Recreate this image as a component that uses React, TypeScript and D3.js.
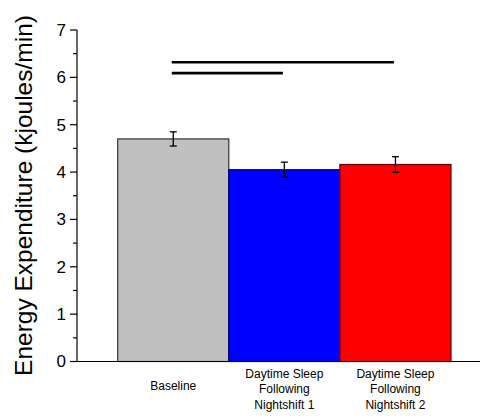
import React from "react";
import * as d3 from "d3";

const categories = ["Baseline", "Daytime Sleep Following Nightshift 1", "Daytime Sleep Following Nightshift 2"];
const labelLines = [["Baseline"], ["Daytime Sleep", "Following", "Nightshift 1"], ["Daytime Sleep", "Following", "Nightshift 2"]];
const values = [4.7, 4.05, 4.16];
const errors = [0.15, 0.16, 0.165];
const colors = ["#c0c0c0", "#0000ff", "#ff0000"];
const strokes = ["#333333", "#000066", "#660000"];
const yTicks = [0, 1, 2, 3, 4, 5, 6, 7];
const sigLines = [
  { from: 0, to: 2, y: 6.32 },
  { from: 0, to: 1, y: 6.09 },
];

export default function App() {
  const W = 480, H = 418;
  const y = d3.scaleLinear().domain([0, 7]).range([361.5, 30]);
  const x = d3.scaleBand().domain(categories).range([117.7, 451]).paddingInner(0).paddingOuter(0);
  const minor = d3.range(0.5, 7, 1);
  const axisX = 77;
  const font = "Arial, 'Liberation Sans', sans-serif";
  return (
    <div style={{ position: "absolute", left: 0, top: 0 }}>
      <svg width={W} height={H} style={{ display: "block", background: "#fff" }}>
        {categories.map((c, i) => (
          <rect key={c} x={x(c)!} y={y(values[i])} width={x.bandwidth()} height={y(0) - y(values[i])}
            fill={colors[i]} stroke={strokes[i]} strokeWidth={1.2} />
        ))}
        {categories.map((c, i) => {
          const cx = x(c)! + x.bandwidth() / 2;
          const t = y(values[i] + errors[i]);
          const b = y(values[i] - errors[i]);
          return (
            <g key={"e" + i} stroke="#000" strokeWidth={1.3}>
              <line x1={cx} x2={cx} y1={t} y2={b} />
              <line x1={cx - 3.5} x2={cx + 3.5} y1={t} y2={t} />
              <line x1={cx - 3.5} x2={cx + 3.5} y1={b} y2={b} />
            </g>
          );
        })}
        {sigLines.map((s, i) => {
          const x1 = x(categories[s.from])! + x.bandwidth() / 2 - 1.5;
          const x2 = x(categories[s.to])! + x.bandwidth() / 2 - 1.5;
          return <line key={"s" + i} x1={x1} x2={x2} y1={y(s.y)} y2={y(s.y)} stroke="#000" strokeWidth={2.6} />;
        })}
        <line x1={axisX} x2={axisX} y1={y(7)} y2={y(0)} stroke="#000" strokeWidth={1.2} />
        <line x1={axisX} x2={W} y1={y(0)} y2={y(0)} stroke="#000" strokeWidth={1.2} />
        {yTicks.map((t) => (
          <g key={"t" + t}>
            <line x1={axisX - 7} x2={axisX} y1={y(t)} y2={y(t)} stroke="#000" strokeWidth={1.2} />
            <text x={axisX - 11} y={y(t)} dy="0.35em" textAnchor="end" fontFamily={font} fontSize={17} fill="#000">{t}</text>
          </g>
        ))}
        {minor.map((t) => (
          <line key={"m" + t} x1={axisX - 4} x2={axisX} y1={y(t)} y2={y(t)} stroke="#000" strokeWidth={1.2} />
        ))}
        {categories.map((c, i) => {
          const cx = x(c)! + x.bandwidth() / 2;
          const lines = labelLines[i];
          const start = lines.length === 1 ? 386 : 373.5;
          return (
            <text key={"l" + i} textAnchor="middle" fontFamily={font} fontSize={12} fill="#000">
              {lines.map((ln, j) => (
                <tspan key={j} x={cx} y={start + j * 15.5} dy="0.35em">{ln}</tspan>
              ))}
            </text>
          );
        })}
        <text transform={`translate(23,195.5) rotate(-90)`} textAnchor="middle" dy="0.35em" fontFamily={font} fontSize={24.5} fill="#000">
          Energy Expenditure (kjoules/min)
        </text>
      </svg>
    </div>
  );
}
